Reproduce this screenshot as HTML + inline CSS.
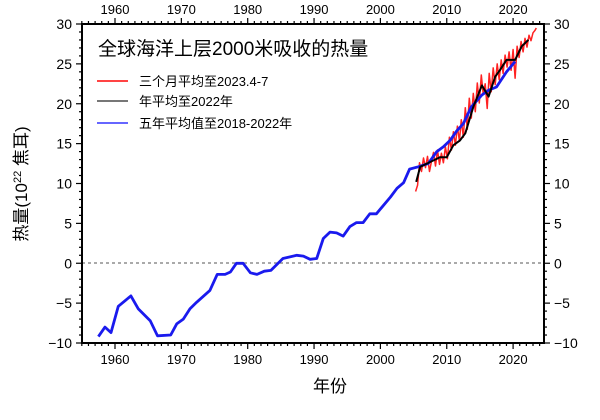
<!DOCTYPE html>
<html><head><meta charset="utf-8"><style>
body{margin:0;background:#fff;}
svg text{font-family:"Liberation Sans","Noto Sans CJK SC",sans-serif;}
</style></head><body>
<svg id="chart" width="600" height="415" viewBox="0 0 600 415" xmlns="http://www.w3.org/2000/svg">
<g id="ticks"></g>
<line x1="82" x2="544" y1="263" y2="263" stroke="#777" stroke-width="1.2" stroke-dasharray="3,3"/>
<g id="series"></g>
<rect x="82" y="24" width="462" height="319" fill="none" stroke="#000" stroke-width="2"/>
<text x="98" y="55" font-size="19" fill="#000">全球海洋上层2000米吸收的热量</text>
<g>
<line x1="97" x2="128" y1="81" y2="81" stroke="#f44" stroke-width="2"/>
<text x="139" y="86" font-size="13">三个月平均至2023.4-7</text>
<line x1="97" x2="128" y1="101" y2="101" stroke="#777" stroke-width="2"/>
<text x="139" y="106" font-size="13">年平均至2022年</text>
<line x1="97" x2="128" y1="123" y2="123" stroke="#66f" stroke-width="2"/>
<text x="139" y="128" font-size="13">五年平均值至2018-2022年</text>
</g>
<text transform="translate(27,184) rotate(-90)" text-anchor="middle" font-size="17">热量(10<tspan font-size="11" dy="-6">22</tspan><tspan dy="6"> 焦耳)</tspan></text>
<text x="330" y="392" text-anchor="middle" font-size="17">年份</text>
</svg>
<script>
const xTicks=[1960,1970,1980,1990,2000,2010,2020];
const yTicks=[-10,-5,0,5,10,15,20,25,30];
const blueYears=[1957.5,1958.5,1959.4,1960.5,1962.4,1963.5,1965.3,1966.4,1968.4,1969.3,1970.3,1971.3,1972.3,1974.3,1975.4,1976.6,1977.4,1978.3,1979.3,1980.4,1981.4,1982.5,1983.5,1985.3,1987.4,1988.4,1989.4,1990.4,1991.4,1992.4,1993.4,1994.4,1995.4,1996.4,1997.4,1998.4,1999.4,2000.4,2001.5,2002.5,2003.5,2004.4,2005.7,2007.2,2008.5,2009.5,2010.5,2011.5,2012.5,2013.7,2015.3,2016.3,2017.5,2019,2020.3];
const blueVals=[-9.2,-8,-8.7,-5.4,-4.1,-5.7,-7.2,-9.1,-9,-7.6,-7,-5.7,-4.9,-3.4,-1.4,-1.4,-1.1,0,0,-1.2,-1.4,-1,-0.9,0.6,1,0.9,0.5,0.6,3.1,3.9,3.8,3.4,4.6,5.1,5.1,6.2,6.2,7.2,8.3,9.4,10.1,11.8,12.1,12.5,14,14.6,15.4,16.6,17.5,19.6,21.1,21.7,22.1,24,25.3];
const blackYears=[2005.4,2006,2007,2008,2009,2010,2011,2012,2012.8,2014,2015.3,2016.3,2017.3,2018,2019,2020.3,2021.3,2022.3];
const blackVals=[10.2,12.1,12.5,12.9,13.3,13.3,14.8,15.4,16.3,19.6,22.3,20.9,23.4,24.2,25.5,25.5,27.2,28];
const redYears=[2005.3,2005.6,2005.9,2006.2,2006.5,2006.8,2007.1,2007.4,2007.7,2008,2008.3,2008.6,2008.9,2009.2,2009.5,2009.8,2010.1,2010.4,2010.7,2011,2011.3,2011.6,2011.9,2012.2,2012.5,2012.8,2013.1,2013.4,2013.7,2014,2014.3,2014.6,2014.9,2015.2,2015.5,2015.8,2016.1,2016.4,2016.7,2017,2017.3,2017.6,2017.9,2018.2,2018.5,2018.8,2019.1,2019.4,2019.7,2020,2020.3,2020.6,2020.9,2021.2,2021.5,2021.8,2022.1,2022.4,2022.7,2023,2023.3,2023.5];
const redVals=[9,9.8,12.6,11.5,13.2,12,13.4,11.5,12.8,13.9,12.2,14.2,12.4,13.8,12.6,14.6,13.1,15.8,14.2,16.5,14.8,17.2,15.3,18,15.8,19.5,16.8,20.7,18.2,21.3,19,22.6,20.1,23.6,21.2,22.5,19.4,23.8,21.5,24.5,22.4,25,23,25.5,23.8,26.1,24.6,26.5,24.2,26.8,23.2,27.2,25.8,27.8,26.5,28.2,27.1,28.6,27.9,28.9,29.2,29.5];

const X=y=>115+(y-1960)*6.635;
const Y=v=>343-(v+10)*7.975;
const ns="http://www.w3.org/2000/svg";
const tg=document.getElementById('ticks');
function mk(tag,attrs,parent){const e=document.createElementNS(ns,tag);for(const k in attrs)e.setAttribute(k,attrs[k]);parent.appendChild(e);return e;}
for(let yr=1955;yr<=2024;yr++){
  const major=yr%10===0, x=X(yr), L=major?6:3;
  const t1=mk('line',{x1:x,x2:x,y1:24,y2:24-L,stroke:'#000','stroke-width':1.2},tg);
  
  
  const t2=mk('line',{x1:x,x2:x,y1:343,y2:343+L,stroke:'#000','stroke-width':1.2},tg);
  
  
}
xTicks.forEach(yr=>{
  const a=mk('text',{x:X(yr),y:14,'text-anchor':'middle','font-size':13},tg);a.textContent=yr;
  
  
  const b=mk('text',{x:X(yr),y:364,'text-anchor':'middle','font-size':13},tg);b.textContent=yr;
  
  
});
for(let v=-10;v<=30;v++){
  const major=v%5===0,y=Y(v),L=major?6:3;
  const l=mk('line',{x1:82,x2:82-L,y1:y,y2:y,stroke:'#000','stroke-width':1.2},tg);
  
  
  const r=mk('line',{x1:544,x2:544+L,y1:y,y2:y,stroke:'#000','stroke-width':1.2},tg);
  
  
}
yTicks.forEach(v=>{
  const lab=v<0?'\u2212'+(-v):String(v);
  const a=mk('text',{x:72,y:Y(v)+5,'text-anchor':'end','font-size':14},tg);a.textContent=lab;
  
  
  const b=mk('text',{x:554,y:Y(v)+5,'text-anchor':'start','font-size':14},tg);b.textContent=lab;
  
  
});
const sg=document.getElementById('series');
function line(xs,vs,color,w,name){
  const p=mk('polyline',{points:xs.map((x,i)=>X(x).toFixed(1)+','+Y(vs[i]).toFixed(1)).join(' '),fill:'none',stroke:color,'stroke-width':w,'stroke-linejoin':'round'},sg);
  
  
}
line(redYears,redVals,'#f22',1.5,'three-month-series');
line(blueYears,blueVals,'#1a1aee',2.8,'five-year-series');
line(blackYears,blackVals,'#000',2,'annual-series');
</script>
</body></html>
